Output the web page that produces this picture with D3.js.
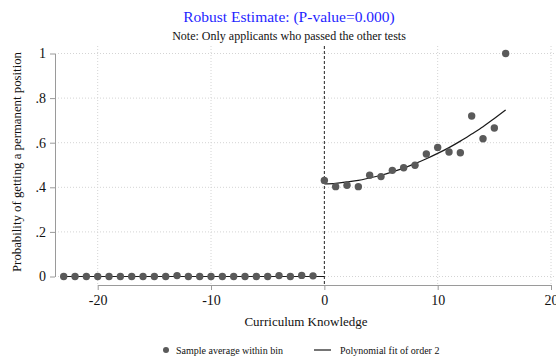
<!DOCTYPE html>
<html>
<head>
<meta charset="utf-8">
<script src="https://cdn.jsdelivr.net/npm/d3@7"></script>
<style>
  body { margin: 0; background: #fff; }
  svg { display: block; font-family: "Liberation Serif", "Times New Roman", serif; }
  .axis path, .axis line { stroke: #9a9a9a; }
</style>
</head>
<body>
<svg id="chart" width="556" height="362"></svg>
<script>
// RD plot: probability of permanent position vs curriculum knowledge

// bins left of the cutoff
const leftBins = [-23,-22,-21,-20,-19,-18,-17,-16,-15,-14,-13,-12,-11,-10,-9,-8,-7,-6,-5,-4,-3,-2,-1];
const leftMeans = [0,0,0,0,0,0,0,0,0,0,0.004,0,0,0,0,0,0,0,0,0.004,0,0.005,0.003];

// bins right of the cutoff
const rightBins = [0,1,2,3,4,5,6,7,8,9,10,11,12,13,14,15,16];
const rightMeans = [0.431,0.403,0.409,0.403,0.454,0.448,0.476,0.488,0.499,0.549,0.579,0.558,0.555,0.720,0.618,0.666,1.0];

// fitted curves
const leftFitX = [-23, 0];
const leftFitY = [0, 0];
const rightFitX = [0,1,2,3,4,5,6,7,8,9,10,11,12,13,14,15,16];
const rightFitY = [0.415,0.418,0.424,0.431,0.442,0.454,0.469,0.486,0.506,0.528,0.552,0.578,0.607,0.639,0.672,0.709,0.747];

const xTicks = [-20, -10, 0, 10, 20];
const yTicks = [0, 0.2, 0.4, 0.6, 0.8, 1];

const svg = d3.select('#chart');

const x = d3.scaleLinear().domain([-20, 20]).range([97.7, 551]);
const y = d3.scaleLinear().domain([0, 1]).range([276.5, 53.5]);

const plotTop = 46, plotBottom = 285, plotLeft = 55, plotRight = 556;

// grid
svg.append('g').selectAll('line')
  .data(yTicks)
  .join('line')
    .attr('x1', plotLeft).attr('x2', plotRight)
    .attr('y1', d => y(d)).attr('y2', d => y(d))
    .attr('stroke', '#d4d4d4')
    .attr('stroke-width', 1)
    .attr('stroke-dasharray', '1,2');

svg.append('g').selectAll('line')
  .data(xTicks.filter(d => d !== 0))
  .join('line')
    .attr('x1', d => x(d)).attr('x2', d => x(d))
    .attr('y1', plotTop).attr('y2', plotBottom)
    .attr('stroke', '#d4d4d4')
    .attr('stroke-width', 1)
    .attr('stroke-dasharray', '1,2');

// axes
svg.append('g')
  .attr('class', 'axis')
  .attr('transform', `translate(0,${plotBottom})`)
  .call(d3.axisBottom(x).tickValues(xTicks).tickSize(5).tickSizeOuter(0).tickPadding(5)
    .tickFormat(d => d < 0 ? '-' + Math.abs(d) : d))
  .attr('font-family', '"Liberation Serif", serif')
  .attr('font-size', 14)
  .selectAll('text').attr('fill', '#111');

svg.append('g')
  .attr('class', 'axis')
  .attr('transform', `translate(${plotLeft},0)`)
  .call(d3.axisLeft(y).tickValues(yTicks).tickSize(5).tickSizeOuter(0).tickPadding(4)
    .tickFormat(d => d === 0 ? '0' : d === 1 ? '1' : d3.format('.1f')(d).replace(/^0/, '')))
  .attr('font-family', '"Liberation Serif", serif')
  .attr('font-size', 14)
  .selectAll('text').attr('fill', '#111');

// cutoff line
svg.append('line')
  .attr('x1', x(0)).attr('x2', x(0))
  .attr('y1', plotTop).attr('y2', plotBottom)
  .attr('stroke', '#222')
  .attr('stroke-width', 1)
  .attr('stroke-dasharray', '3,2');

// fit lines
const line = d3.line().x(d => x(d[0])).y(d => y(d[1]));

svg.append('path')
  .datum(d3.zip(leftFitX, leftFitY))
  .attr('d', line)
  .attr('fill', 'none')
  .attr('stroke', '#1a1a1a')
  .attr('stroke-width', 1.2);

svg.append('path')
  .datum(d3.zip(rightFitX, rightFitY))
  .attr('d', line.curve(d3.curveMonotoneX))
  .attr('fill', 'none')
  .attr('stroke', '#1a1a1a')
  .attr('stroke-width', 1.2);

// bin means
const pts = d3.zip(leftBins, leftMeans).concat(d3.zip(rightBins, rightMeans));

svg.append('g').selectAll('circle')
  .data(pts)
  .join('circle')
    .attr('cx', d => x(d[0]))
    .attr('cy', d => y(d[1]))
    .attr('r', 3.7)
    .attr('fill', '#5a5a5a');

// titles
svg.append('text')
  .attr('x', 289).attr('y', 22)
  .attr('text-anchor', 'middle')
  .attr('font-size', '15.5px')
  .attr('fill', '#1f1fff')
  .text('Robust Estimate: (P-value=0.000)');

svg.append('text')
  .attr('x', 289).attr('y', 40)
  .attr('text-anchor', 'middle')
  .attr('font-size', '12px')
  .attr('fill', '#111')
  .text('Note: Only applicants who passed the other tests');

svg.append('text')
  .attr('x', 306).attr('y', 326)
  .attr('text-anchor', 'middle')
  .attr('font-size', '13px')
  .attr('fill', '#111')
  .text('Curriculum Knowledge');

svg.append('text')
  .attr('transform', 'translate(21,162) rotate(-90)')
  .attr('text-anchor', 'middle')
  .attr('font-size', '12.8px')
  .attr('fill', '#111')
  .text('Probability of getting a permanent position');

// legend
const legend = svg.append('g').attr('font-size', '10px').attr('fill', '#111');

legend.append('circle')
  .attr('cx', 166).attr('cy', 350).attr('r', 3)
  .attr('fill', '#5a5a5a');
legend.append('text')
  .attr('x', 176).attr('y', 353.5)
  .text('Sample average within bin');

legend.append('line')
  .attr('x1', 314).attr('x2', 331)
  .attr('y1', 350).attr('y2', 350)
  .attr('stroke', '#1a1a1a')
  .attr('stroke-width', 1.2);
legend.append('text')
  .attr('x', 340).attr('y', 353.5)
  .text('Polynomial fit of order 2');
</script>
</body>
</html>
